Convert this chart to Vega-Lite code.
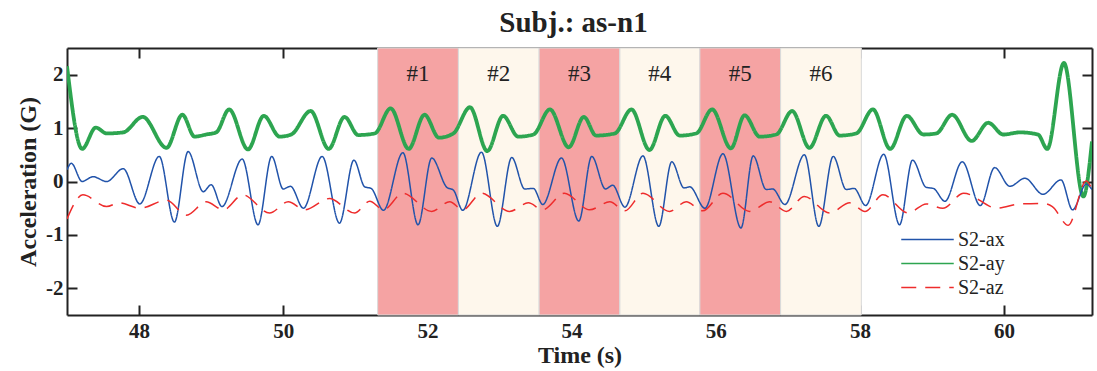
{
 "$schema": "https://vega.github.io/schema/vega-lite/v6.json",
 "width": 1025,
 "height": 267,
 "autosize": "none",
 "padding": {"left": 67, "top": 48, "right": 5, "bottom": 56},
 "background": "white",
 "title": {"text": "Subj.: as-n1", "font": "Liberation Serif", "fontSize": 29, "fontWeight": "bold", "color": "#222222", "anchor": "middle", "offset": 9, "dx": -6},
 "config": {
  "view": {"stroke": null},
  "axis": {"domainColor": "#222222", "domainWidth": 2, "tickColor": "#222222", "tickWidth": 2, "tickSize": -10, "grid": false,
           "labelFont": "Liberation Serif", "labelFontSize": 21, "labelFontWeight": "bold", "labelColor": "#222222",
           "titleFont": "Liberation Serif", "titleFontSize": 24, "titleFontWeight": "bold", "titleColor": "#222222"},
  "legend": {"orient": "none", "legendX": 849, "legendY": 180, "title": null, "symbolType": "M-2.5,0H2.5", "symbolSize": 441,
             "symbolStrokeWidth": 1.5, "labelFont": "Liberation Serif", "labelFontSize": 20, "labelColor": "#222222",
             "rowPadding": 2, "padding": 0, "labelOffset": 19}
 },
 "datasets": {
  "regions": [
   {"label": "#1", "start": 51.31, "end": 52.43, "kind": "a"},
   {"label": "#2", "start": 52.43, "end": 53.55, "kind": "b"},
   {"label": "#3", "start": 53.55, "end": 54.67, "kind": "a"},
   {"label": "#4", "start": 54.67, "end": 55.78, "kind": "b"},
   {"label": "#5", "start": 55.78, "end": 56.90, "kind": "a"},
   {"label": "#6", "start": 56.90, "end": 58.02, "kind": "b"}
  ],
  "signals": [
   {"s":"S2-ax","t":47.00,"v":0.22},{"s":"S2-ax","t":47.06,"v":0.34},{"s":"S2-ax","t":47.21,"v":0.00},{"s":"S2-ax","t":47.36,"v":0.09},
   {"s":"S2-ax","t":47.55,"v":0.00},{"s":"S2-ax","t":47.78,"v":0.24},{"s":"S2-ax","t":48.01,"v":-0.42},{"s":"S2-ax","t":48.28,"v":0.47},
   {"s":"S2-ax","t":48.49,"v":-0.76},{"s":"S2-ax","t":48.68,"v":0.56},{"s":"S2-ax","t":48.89,"v":-0.19},{"s":"S2-ax","t":49.00,"v":-0.06},
   {"s":"S2-ax","t":49.15,"v":-0.47},{"s":"S2-ax","t":49.43,"v":0.42},{"s":"S2-ax","t":49.65,"v":-0.81},{"s":"S2-ax","t":49.84,"v":0.47},
   {"s":"S2-ax","t":50.00,"v":-0.14},{"s":"S2-ax","t":50.10,"v":-0.09},{"s":"S2-ax","t":50.28,"v":-0.50},{"s":"S2-ax","t":50.54,"v":0.47},
   {"s":"S2-ax","t":50.78,"v":-0.78},{"s":"S2-ax","t":50.98,"v":0.40},{"s":"S2-ax","t":51.13,"v":-0.10},{"s":"S2-ax","t":51.22,"v":-0.13},
   {"s":"S2-ax","t":51.39,"v":-0.54},{"s":"S2-ax","t":51.66,"v":0.54},{"s":"S2-ax","t":51.87,"v":-0.81},{"s":"S2-ax","t":52.06,"v":0.44},
   {"s":"S2-ax","t":52.27,"v":-0.11},{"s":"S2-ax","t":52.36,"v":-0.16},{"s":"S2-ax","t":52.49,"v":-0.54},{"s":"S2-ax","t":52.75,"v":0.55},
   {"s":"S2-ax","t":52.97,"v":-0.84},{"s":"S2-ax","t":53.17,"v":0.45},{"s":"S2-ax","t":53.35,"v":-0.14},{"s":"S2-ax","t":53.47,"v":-0.13},
   {"s":"S2-ax","t":53.60,"v":-0.43},{"s":"S2-ax","t":53.86,"v":0.44},{"s":"S2-ax","t":54.10,"v":-0.74},{"s":"S2-ax","t":54.28,"v":0.47},
   {"s":"S2-ax","t":54.47,"v":-0.14},{"s":"S2-ax","t":54.57,"v":-0.07},{"s":"S2-ax","t":54.74,"v":-0.48},{"s":"S2-ax","t":54.99,"v":0.48},
   {"s":"S2-ax","t":55.21,"v":-0.84},{"s":"S2-ax","t":55.39,"v":0.37},{"s":"S2-ax","t":55.56,"v":-0.12},{"s":"S2-ax","t":55.64,"v":-0.10},
   {"s":"S2-ax","t":55.85,"v":-0.50},{"s":"S2-ax","t":56.10,"v":0.52},{"s":"S2-ax","t":56.35,"v":-0.87},{"s":"S2-ax","t":56.52,"v":0.48},
   {"s":"S2-ax","t":56.70,"v":-0.15},{"s":"S2-ax","t":56.79,"v":-0.14},{"s":"S2-ax","t":56.96,"v":-0.43},{"s":"S2-ax","t":57.23,"v":0.50},
   {"s":"S2-ax","t":57.43,"v":-0.84},{"s":"S2-ax","t":57.63,"v":0.47},{"s":"S2-ax","t":57.81,"v":-0.15},{"s":"S2-ax","t":57.92,"v":-0.13},
   {"s":"S2-ax","t":58.08,"v":-0.45},{"s":"S2-ax","t":58.33,"v":0.51},{"s":"S2-ax","t":58.55,"v":-0.81},{"s":"S2-ax","t":58.73,"v":0.40},
   {"s":"S2-ax","t":58.92,"v":-0.11},{"s":"S2-ax","t":59.02,"v":-0.13},{"s":"S2-ax","t":59.18,"v":-0.37},{"s":"S2-ax","t":59.42,"v":0.37},
   {"s":"S2-ax","t":59.67,"v":-0.45},{"s":"S2-ax","t":59.87,"v":0.26},{"s":"S2-ax","t":60.08,"v":-0.09},{"s":"S2-ax","t":60.29,"v":0.06},
   {"s":"S2-ax","t":60.54,"v":-0.24},{"s":"S2-ax","t":60.79,"v":0.03},{"s":"S2-ax","t":60.95,"v":-0.53},{"s":"S2-ax","t":61.14,"v":-0.05},
   {"s":"S2-ax","t":61.22,"v":-0.15},

   {"s":"S2-ay","t":47.00,"v":2.16},{"s":"S2-ay","t":47.21,"v":0.61},{"s":"S2-ay","t":47.40,"v":1.01},{"s":"S2-ay","t":47.55,"v":0.90},
   {"s":"S2-ay","t":47.78,"v":0.92},{"s":"S2-ay","t":48.05,"v":1.21},{"s":"S2-ay","t":48.38,"v":0.63},{"s":"S2-ay","t":48.60,"v":1.25},
   {"s":"S2-ay","t":48.77,"v":0.84},{"s":"S2-ay","t":48.93,"v":0.88},{"s":"S2-ay","t":49.07,"v":0.92},{"s":"S2-ay","t":49.25,"v":1.35},
   {"s":"S2-ay","t":49.51,"v":0.60},{"s":"S2-ay","t":49.73,"v":1.23},{"s":"S2-ay","t":49.95,"v":0.84},{"s":"S2-ay","t":50.11,"v":0.88},
   {"s":"S2-ay","t":50.38,"v":1.32},{"s":"S2-ay","t":50.63,"v":0.61},{"s":"S2-ay","t":50.85,"v":1.21},{"s":"S2-ay","t":51.04,"v":0.87},
   {"s":"S2-ay","t":51.27,"v":0.90},{"s":"S2-ay","t":51.49,"v":1.37},{"s":"S2-ay","t":51.74,"v":0.61},{"s":"S2-ay","t":51.96,"v":1.25},
   {"s":"S2-ay","t":52.16,"v":0.82},{"s":"S2-ay","t":52.36,"v":0.90},{"s":"S2-ay","t":52.59,"v":1.39},{"s":"S2-ay","t":52.83,"v":0.57},
   {"s":"S2-ay","t":53.05,"v":1.23},{"s":"S2-ay","t":53.26,"v":0.84},{"s":"S2-ay","t":53.47,"v":0.88},{"s":"S2-ay","t":53.70,"v":1.35},
   {"s":"S2-ay","t":53.96,"v":0.64},{"s":"S2-ay","t":54.17,"v":1.21},{"s":"S2-ay","t":54.34,"v":0.86},{"s":"S2-ay","t":54.60,"v":0.90},
   {"s":"S2-ay","t":54.83,"v":1.35},{"s":"S2-ay","t":55.08,"v":0.59},{"s":"S2-ay","t":55.30,"v":1.23},{"s":"S2-ay","t":55.50,"v":0.86},
   {"s":"S2-ay","t":55.73,"v":0.90},{"s":"S2-ay","t":55.95,"v":1.35},{"s":"S2-ay","t":56.21,"v":0.62},{"s":"S2-ay","t":56.40,"v":1.24},
   {"s":"S2-ay","t":56.61,"v":0.84},{"s":"S2-ay","t":56.84,"v":0.88},{"s":"S2-ay","t":57.06,"v":1.32},{"s":"S2-ay","t":57.30,"v":0.63},
   {"s":"S2-ay","t":57.53,"v":1.23},{"s":"S2-ay","t":57.72,"v":0.86},{"s":"S2-ay","t":57.95,"v":0.90},{"s":"S2-ay","t":58.18,"v":1.35},
   {"s":"S2-ay","t":58.42,"v":0.61},{"s":"S2-ay","t":58.65,"v":1.23},{"s":"S2-ay","t":58.88,"v":0.88},{"s":"S2-ay","t":59.06,"v":0.90},
   {"s":"S2-ay","t":59.28,"v":1.25},{"s":"S2-ay","t":59.55,"v":0.76},{"s":"S2-ay","t":59.78,"v":1.10},{"s":"S2-ay","t":59.99,"v":0.88},
   {"s":"S2-ay","t":60.22,"v":0.92},{"s":"S2-ay","t":60.47,"v":0.88},{"s":"S2-ay","t":60.60,"v":0.61},{"s":"S2-ay","t":60.83,"v":2.22},
   {"s":"S2-ay","t":61.10,"v":-0.28},{"s":"S2-ay","t":61.22,"v":0.75},

   {"s":"S2-az","t":47.00,"v":-0.70},{"s":"S2-az","t":47.22,"v":-0.25},{"s":"S2-az","t":47.55,"v":-0.47},{"s":"S2-az","t":47.72,"v":-0.40},
   {"s":"S2-az","t":48.01,"v":-0.50},{"s":"S2-az","t":48.38,"v":-0.35},{"s":"S2-az","t":48.66,"v":-0.63},{"s":"S2-az","t":48.93,"v":-0.38},
   {"s":"S2-az","t":49.17,"v":-0.53},{"s":"S2-az","t":49.44,"v":-0.25},{"s":"S2-az","t":49.81,"v":-0.59},{"s":"S2-az","t":50.07,"v":-0.38},
   {"s":"S2-az","t":50.30,"v":-0.53},{"s":"S2-az","t":50.64,"v":-0.32},{"s":"S2-az","t":50.99,"v":-0.59},{"s":"S2-az","t":51.20,"v":-0.37},
   {"s":"S2-az","t":51.39,"v":-0.53},{"s":"S2-az","t":51.66,"v":-0.22},{"s":"S2-az","t":52.06,"v":-0.56},{"s":"S2-az","t":52.31,"v":-0.38},
   {"s":"S2-az","t":52.49,"v":-0.53},{"s":"S2-az","t":52.75,"v":-0.22},{"s":"S2-az","t":53.14,"v":-0.56},{"s":"S2-az","t":53.40,"v":-0.40},
   {"s":"S2-az","t":53.60,"v":-0.53},{"s":"S2-az","t":53.90,"v":-0.22},{"s":"S2-az","t":54.25,"v":-0.53},{"s":"S2-az","t":54.53,"v":-0.38},
   {"s":"S2-az","t":54.74,"v":-0.55},{"s":"S2-az","t":54.99,"v":-0.22},{"s":"S2-az","t":55.36,"v":-0.56},{"s":"S2-az","t":55.59,"v":-0.38},
   {"s":"S2-az","t":55.82,"v":-0.55},{"s":"S2-az","t":56.10,"v":-0.22},{"s":"S2-az","t":56.47,"v":-0.56},{"s":"S2-az","t":56.75,"v":-0.38},
   {"s":"S2-az","t":56.98,"v":-0.56},{"s":"S2-az","t":57.23,"v":-0.28},{"s":"S2-az","t":57.58,"v":-0.59},{"s":"S2-az","t":57.86,"v":-0.40},
   {"s":"S2-az","t":58.07,"v":-0.56},{"s":"S2-az","t":58.32,"v":-0.25},{"s":"S2-az","t":58.67,"v":-0.59},{"s":"S2-az","t":58.92,"v":-0.42},
   {"s":"S2-az","t":59.15,"v":-0.50},{"s":"S2-az","t":59.44,"v":-0.22},{"s":"S2-az","t":59.90,"v":-0.50},{"s":"S2-az","t":60.22,"v":-0.42},
   {"s":"S2-az","t":60.54,"v":-0.41},{"s":"S2-az","t":60.67,"v":-0.47},{"s":"S2-az","t":60.89,"v":-0.82},{"s":"S2-az","t":61.14,"v":0.01},
   {"s":"S2-az","t":61.22,"v":-0.15}
  ]
 },
 "layer": [
  {
   "data": {"name": "regions"},
   "mark": {"type": "rect", "stroke": "#d9d9d9", "strokeWidth": 1},
   "encoding": {
    "x": {"field": "start", "type": "quantitative", "scale": {"domain": [47, 61.22], "nice": false, "zero": false},
          "axis": {"orient": "bottom", "title": "Time (s)", "values": [48, 50, 52, 54, 56, 58, 60], "labelPadding": 15, "titlePadding": 2}},
    "x2": {"field": "end"},
    "fill": {"field": "kind", "type": "nominal", "scale": {"domain": ["a", "b"], "range": ["#F5A3A3", "#FEF7EC"]}, "legend": null}
   }
  },
  {
   "data": {"name": "regions"},
   "transform": [{"calculate": "(datum.start + datum.end) / 2", "as": "mid"}],
   "mark": {"type": "text", "font": "Liberation Serif", "fontSize": 23, "color": "#222222", "baseline": "middle"},
   "encoding": {
    "x": {"field": "mid", "type": "quantitative", "axis": {"orient": "top", "labels": false, "title": null, "values": [48, 50, 52, 54, 56, 58, 60]}},
    "y": {"datum": 2.02, "type": "quantitative", "axis": {"orient": "right", "labels": false, "title": null, "values": [-2, -1, 0, 1, 2]}},
    "text": {"field": "label"}
   }
  },
  {
   "data": {"name": "signals"},
   "transform": [{"filter": "datum.s === 'S2-ay'"}],
   "mark": {"type": "line", "interpolate": "monotone", "clip": true, "strokeWidth": 3.8},
   "encoding": {
    "x": {"field": "t", "type": "quantitative", "axis": null},
    "y": {"field": "v", "type": "quantitative", "scale": {"domain": [-2.5, 2.5], "nice": false, "zero": false}, "axis": null},
    "stroke": {"field": "s", "type": "nominal", "scale": {"domain": ["S2-ax", "S2-ay", "S2-az"], "range": ["#2153AA", "#2DA550", "#EE2C2C"]}},
    "strokeDash": {"field": "s", "type": "nominal", "scale": {"type": "ordinal", "domain": ["S2-ax", "S2-ay", "S2-az"], "range": [[1, 0], [1, 0], [15, 9]]}}
   }
  },
  {
   "data": {"name": "signals"},
   "transform": [{"filter": "datum.s !== 'S2-ay'"}],
   "mark": {"type": "line", "interpolate": "monotone", "clip": true, "strokeWidth": 1.5},
   "encoding": {
    "x": {"field": "t", "type": "quantitative", "axis": null},
    "y": {"field": "v", "type": "quantitative", "scale": {"domain": [-2.5, 2.5], "nice": false, "zero": false},
          "axis": {"orient": "left", "title": "Acceleration (G)", "values": [-2, -1, 0, 1, 2], "labelExpr": "'' + datum.value", "labelPadding": 14, "titlePadding": 5}},
    "stroke": {"field": "s", "type": "nominal", "scale": {"domain": ["S2-ax", "S2-ay", "S2-az"], "range": ["#2153AA", "#2DA550", "#EE2C2C"]}},
    "strokeDash": {"field": "s", "type": "nominal", "scale": {"type": "ordinal", "domain": ["S2-ax", "S2-ay", "S2-az"], "range": [[1, 0], [1, 0], [15, 9]]}}
   }
  }
 ],
 "resolve": {"axis": {"x": "independent", "y": "independent"}}
}
